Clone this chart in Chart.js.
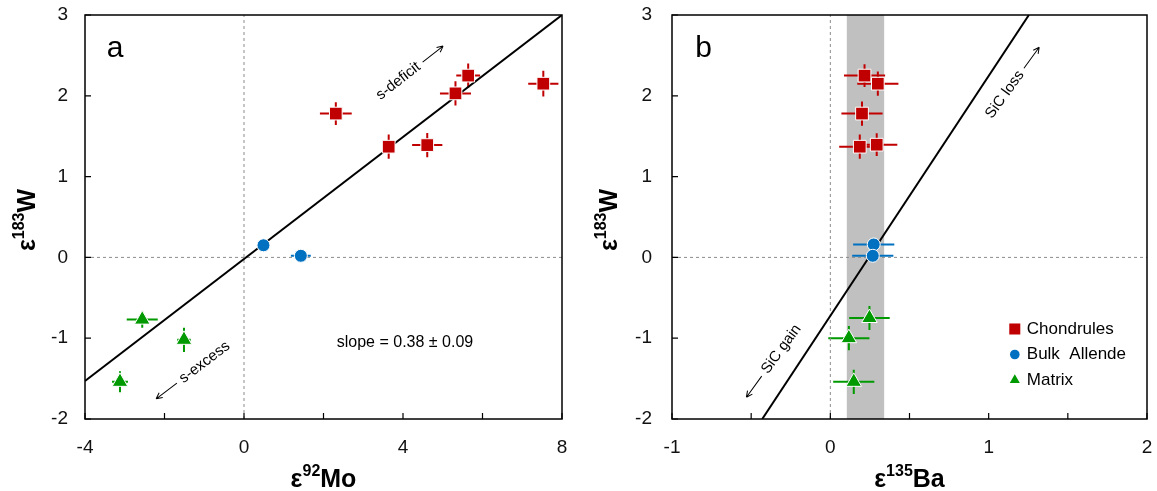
<!DOCTYPE html>
<html>
<head>
<meta charset="utf-8">
<script src="https://cdn.jsdelivr.net/npm/chart.js@4/dist/chart.umd.min.js"></script>
<style>
  html, body { margin: 0; padding: 0; background: #fff; }
  #wrap { position: relative; width: 1157px; height: 491px; }
  #chartMo { position: absolute; left: 0; top: 0; }
  #chartBa { position: absolute; left: 580px; top: 0; }
</style>
</head>
<body>
<div id="wrap">
  <canvas id="chartMo" width="580" height="491"></canvas>
  <canvas id="chartBa" width="577" height="491"></canvas>
</div>
<script>
// ---- panel a: e183W vs e92Mo ----
const moChondX    = [2.31, 3.64, 4.61, 5.32, 5.64, 7.53];
const moChondY    = [1.78, 1.37, 1.39, 2.03, 2.25, 2.15];
const moChondXErr = [0.40, 0.15, 0.38, 0.39, 0.30, 0.38];
const moChondYErr = [0.14, 0.15, 0.15, 0.15, 0.15, 0.16];

const moBulkX    = [0.49, 1.43];
const moBulkY    = [0.15, 0.02];
const moBulkXErr = [0.10, 0.25];
const moBulkYErr = [0.04, 0.03];

const moMatrixX    = [-2.56, -1.51, -3.12];
const moMatrixY    = [-0.77, -1.02, -1.54];
const moMatrixXErr = [0.39, 0.17, 0.20];
const moMatrixYErr = [0.10, 0.15, 0.13];

const moFitX = [-4, 8];
const moFitY = [-1.53, 3.0];

// ---- panel b: e183W vs e135Ba ----
const baChondX    = [0.216, 0.300, 0.200, 0.186, 0.293];
const baChondY    = [2.25, 2.15, 1.78, 1.37, 1.395];
const baChondXErr = [0.13, 0.13, 0.13, 0.13, 0.13];
const baChondYErr = [0.14, 0.15, 0.15, 0.15, 0.14];

const baBulkX    = [0.274, 0.268];
const baBulkY    = [0.16, 0.02];
const baBulkXErr = [0.13, 0.13];
const baBulkYErr = [0.03, 0.03];

const baMatrixX    = [0.247, 0.117, 0.148];
const baMatrixY    = [-0.75, -1.00, -1.54];
const baMatrixXErr = [0.128, 0.13, 0.13];
const baMatrixYErr = [0.15, 0.15, 0.15];

const baFitX = [-0.43, 1.254];
const baFitY = [-2, 3];
const baBand = [0.104, 0.34];

const yRange = [-2, 3];
const seriesNames = ['Chondrules', 'Bulk  Allende', 'Matrix'];

const RED = '#c00000', BLUE = '#0070c0', GREEN = '#009a00';
const FONT = '"Liberation Sans", Arial, sans-serif';

function pts(xs, ys) {
  return xs.map((v, i) => ({ x: v, y: ys[i] }));
}

function markerSet(label, xs, ys, xe, ye, style, color, radius) {
  return {
    label, data: pts(xs, ys), xErr: xe, yErr: ye, errColor: color,
    pointStyle: style, pointRadius: radius, pointBackgroundColor: color,
    pointBorderColor: '#ffffff', pointBorderWidth: 1,
    showLine: false, order: 1, legend: true
  };
}

function refLine(xs, ys, dashed) {
  return {
    data: pts(xs, ys), showLine: true, pointRadius: 0,
    borderColor: dashed ? '#8c8c8c' : '#000',
    borderWidth: dashed ? 1 : 2,
    borderDash: dashed ? [3, 3] : [],
    order: dashed ? 10 : 5
  };
}

function arrow(ctx, x0, x1) {
  ctx.beginPath();
  ctx.moveTo(x0, 0);
  ctx.lineTo(x1, 0);
  const d = x1 > x0 ? -1 : 1;
  ctx.moveTo(x1, 0); ctx.lineTo(x1 + d * 6, -3);
  ctx.moveTo(x1, 0); ctx.lineTo(x1 + d * 6, 3);
  ctx.stroke();
}

function drawNote(ctx, px, py, deg, text, arrowFirst) {
  ctx.save();
  ctx.translate(px, py);
  ctx.rotate(deg * Math.PI / 180);
  ctx.font = '15px ' + FONT;
  ctx.fillStyle = '#000';
  ctx.strokeStyle = '#000';
  ctx.lineWidth = 1;
  ctx.textBaseline = 'middle';
  ctx.textAlign = 'left';
  const tw = ctx.measureText(text).width, al = 26, gap = 5;
  if (arrowFirst) {
    arrow(ctx, al, 0);
    ctx.fillText(text, al + gap, 0);
  } else {
    ctx.fillText(text, 0, 0);
    arrow(ctx, tw + gap, tw + gap + al);
  }
  ctx.restore();
}

function drawSupTitle(ctx, parts, cx, cy, rot) {
  const big = 'bold 25px ' + FONT, small = 'bold 16px ' + FONT;
  ctx.save();
  ctx.translate(cx, cy);
  ctx.rotate(rot);
  ctx.fillStyle = '#000';
  ctx.textBaseline = 'alphabetic';
  ctx.textAlign = 'left';
  ctx.font = big;
  const w1 = ctx.measureText(parts[0]).width, w3 = ctx.measureText(parts[2]).width;
  ctx.font = small;
  const w2 = ctx.measureText(parts[1]).width;
  let x0 = -(w1 + w2 + w3) / 2;
  ctx.font = big;  ctx.fillText(parts[0], x0, 9);
  ctx.font = small; ctx.fillText(parts[1], x0 + w1, -2);
  ctx.font = big;  ctx.fillText(parts[2], x0 + w1 + w2, 9);
  ctx.restore();
}

const panelPlugin = {
  id: 'panel',
  beforeDatasetsDraw(chart) {
    const { ctx, chartArea: a, scales: { x, y } } = chart;
    const p = chart.options.plugins.panel;
    ctx.save();
    if (p.band) {
      const x0 = x.getPixelForValue(p.band[0]), x1 = x.getPixelForValue(p.band[1]);
      ctx.fillStyle = '#c0c0c0';
      ctx.fillRect(x0, a.top, x1 - x0, a.bottom - a.top);
    }
    // error bars go under the markers
    chart.data.datasets.forEach(ds => {
      if (!ds.xErr) return;
      ctx.strokeStyle = ds.errColor;
      ctx.lineWidth = 2;
      ds.data.forEach((pt, i) => {
        const px = x.getPixelForValue(pt.x), py = y.getPixelForValue(pt.y);
        ctx.beginPath();
        ctx.moveTo(x.getPixelForValue(pt.x - ds.xErr[i]), py);
        ctx.lineTo(x.getPixelForValue(pt.x + ds.xErr[i]), py);
        ctx.moveTo(px, y.getPixelForValue(pt.y - ds.yErr[i]));
        ctx.lineTo(px, y.getPixelForValue(pt.y + ds.yErr[i]));
        ctx.stroke();
      });
    });
    ctx.restore();
  },
  afterDraw(chart) {
    const { ctx, chartArea: a, scales: { x, y } } = chart;
    const p = chart.options.plugins.panel;
    ctx.save();
    // frame and inward ticks
    ctx.strokeStyle = '#000';
    ctx.lineWidth = 1.5;
    ctx.strokeRect(a.left, a.top, a.right - a.left, a.bottom - a.top);
    ctx.lineWidth = 1.2;
    ctx.beginPath();
    x.ticks.forEach(t => {
      const px = x.getPixelForValue(t.value);
      ctx.moveTo(px, a.bottom); ctx.lineTo(px, a.bottom - 6);
    });
    y.ticks.forEach(t => {
      const py = y.getPixelForValue(t.value);
      ctx.moveTo(a.left, py); ctx.lineTo(a.left + 6, py);
    });
    ctx.stroke();

    // axis titles
    drawSupTitle(ctx, p.xTitle, (a.left + a.right) / 2, 478, 0);
    drawSupTitle(ctx, p.yTitle, p.yTitleX, 220, -Math.PI / 2);

    // panel letter
    ctx.fillStyle = '#000';
    ctx.font = '30px ' + FONT;
    ctx.textBaseline = 'alphabetic';
    ctx.textAlign = 'left';
    ctx.fillText(p.letter.text, x.getPixelForValue(p.letter.x), y.getPixelForValue(p.letter.y));

    // rotated notes
    p.notes.forEach(n => {
      drawNote(ctx, x.getPixelForValue(n.x), y.getPixelForValue(n.y), n.deg, n.text, n.arrowFirst);
    });

    if (p.slope) {
      ctx.font = '16px ' + FONT;
      ctx.textAlign = 'center';
      ctx.textBaseline = 'middle';
      ctx.fillText(p.slope.text, x.getPixelForValue(p.slope.x), y.getPixelForValue(p.slope.y));
    }

    // legend
    if (p.legend) {
      const lx = x.getPixelForValue(p.legend.x);
      let ly = y.getPixelForValue(p.legend.y);
      const sizes = { rect: 7.8, circle: 4.8, triangle: 5.8 };
      chart.data.datasets.filter(d => d.legend).forEach(ds => {
        ctx.fillStyle = ds.pointBackgroundColor;
        Chart.helpers.drawPoint(ctx, { pointStyle: ds.pointStyle, radius: sizes[ds.pointStyle], borderWidth: 0, rotation: 0 }, lx, ly);
        ctx.fillStyle = '#000';
        ctx.font = '17px ' + FONT;
        ctx.textAlign = 'left';
        ctx.textBaseline = 'middle';
        ctx.fillText(ds.label, lx + 12, ly);
        ly += 25.5;
      });
    }
    ctx.restore();
  }
};

function makeChart(id, cfg) {
  return new Chart(document.getElementById(id), {
    type: 'scatter',
    data: { datasets: cfg.datasets },
    plugins: [panelPlugin],
    options: {
      responsive: false,
      animation: false,
      layout: { padding: { left: 0, right: cfg.padRight, top: 15, bottom: 0 } },
      plugins: {
        legend: { display: false },
        tooltip: { enabled: false },
        panel: cfg.panel
      },
      scales: {
        x: {
          type: 'linear', min: cfg.xMin, max: cfg.xMax,
          grid: { display: false, drawTicks: false },
          border: { display: false },
          afterFit: s => { s.height = 72; s.paddingLeft = 0; s.paddingRight = 0; },
          ticks: {
            stepSize: cfg.xStep, padding: 17, color: '#111',
            font: { family: FONT, size: 19 },
            callback: v => (Math.abs(v / cfg.xLabelStep - Math.round(v / cfg.xLabelStep)) < 1e-6 ? String(v) : '')
          }
        },
        y: {
          type: 'linear', min: yRange[0], max: yRange[1],
          grid: { display: false, drawTicks: false },
          border: { display: false },
          afterFit: s => { s.width = cfg.yWidth; s.paddingTop = 0; s.paddingBottom = 0; },
          ticks: {
            stepSize: 1, padding: cfg.yPad, color: '#111',
            font: { family: FONT, size: 19 }
          }
        }
      }
    }
  });
}

makeChart('chartMo', {
  xMin: -4, xMax: 8, xStep: 2, xLabelStep: 4, yWidth: 85, yPad: 17, padRight: 18,
  datasets: [
    refLine([0, 0], yRange, true),
    refLine([-4, 8], [0, 0], true),
    refLine(moFitX, moFitY, false),
    markerSet(seriesNames[0], moChondX, moChondY, moChondXErr, moChondYErr, 'rect', RED, 9),
    markerSet(seriesNames[1], moBulkX, moBulkY, moBulkXErr, moBulkYErr, 'circle', BLUE, 6.5),
    markerSet(seriesNames[2], moMatrixX, moMatrixY, moMatrixXErr, moMatrixYErr, 'triangle', GREEN, 9)
  ],
  panel: {
    xTitle: ['\u03b5', '92', 'Mo'],
    yTitle: ['\u03b5', '183', 'W'],
    yTitleX: 26,
    letter: { text: 'a', x: -3.45, y: 2.48 },
    notes: [
      { text: 's-deficit', x: 3.37, y: 1.985, deg: -38, arrowFirst: false },
      { text: 's-excess', x: -2.21, y: -1.75, deg: -37, arrowFirst: true }
    ],
    slope: { text: 'slope = 0.38 \u00b1 0.09', x: 4.05, y: -1.05 }
  }
});

makeChart('chartBa', {
  xMin: -1, xMax: 2, xStep: 0.5, xLabelStep: 1, yWidth: 92, yPad: 20, padRight: 8,
  datasets: [
    refLine([0, 0], yRange, true),
    refLine([-1, 2], [0, 0], true),
    refLine(baFitX, baFitY, false),
    markerSet(seriesNames[0], baChondX, baChondY, baChondXErr, baChondYErr, 'rect', RED, 9),
    markerSet(seriesNames[1], baBulkX, baBulkY, baBulkXErr, baBulkYErr, 'circle', BLUE, 6.5),
    markerSet(seriesNames[2], baMatrixX, baMatrixY, baMatrixXErr, baMatrixYErr, 'triangle', GREEN, 9)
  ],
  panel: {
    band: baBand,
    xTitle: ['\u03b5', '135', 'Ba'],
    yTitle: ['\u03b5', '183', 'W'],
    yTitleX: 28,
    letter: { text: 'b', x: -0.853, y: 2.48 },
    notes: [
      { text: 'SiC loss', x: 1.0, y: 1.74, deg: -54, arrowFirst: false },
      { text: 'SiC gain', x: -0.53, y: -1.73, deg: -54, arrowFirst: true }
    ],
    legend: { x: 1.165, y: -0.886 }
  }
});
</script>
</body>
</html>
